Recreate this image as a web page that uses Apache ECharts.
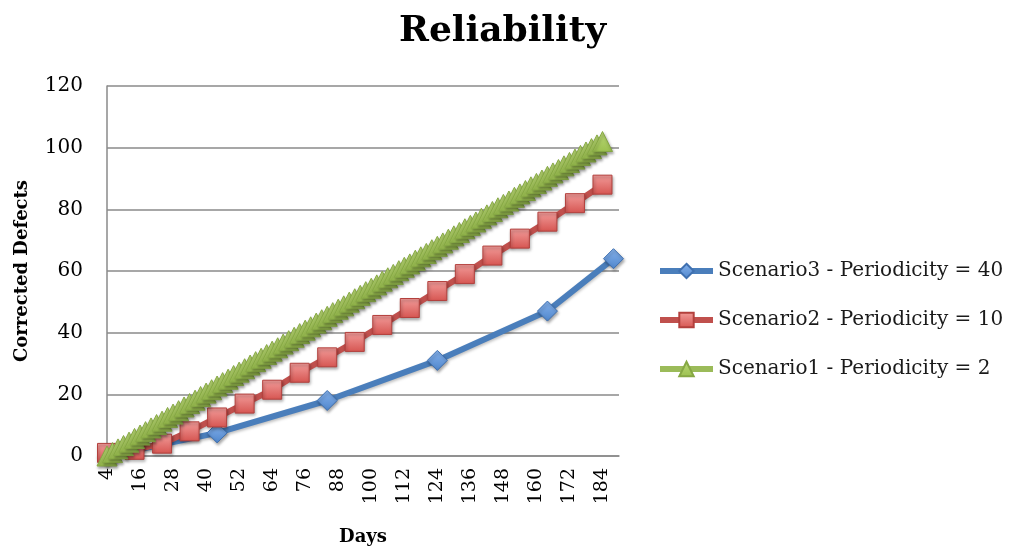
<!DOCTYPE html>
<html>
<head>
<meta charset="utf-8">
<script src="https://cdn.jsdelivr.net/npm/echarts@6/dist/echarts.min.js"></script>
<style>
html,body{margin:0;padding:0;background:#fff;}
#chart{width:1013px;height:549px;}
</style>
</head>
<body>
<div id="chart"></div>
<script>
// Category axis: days
const days = [4,6,8,10,12,14,16,18,20,22,24,26,28,30,32,34,36,38,40,42,44,46,48,50,52,54,56,58,60,62,64,66,68,70,72,74,76,78,80,82,84,86,88,90,92,94,96,98,100,102,104,106,108,110,112,114,116,118,120,122,124,126,128,130,132,134,136,138,140,142,144,146,148,150,152,154,156,158,160,162,164,166,168,170,172,174,176,178,180,182,184,186,188,190];

// Scenario1 - Periodicity = 2 (one point every 2 days, days 4..184)
const s1Days = [4,6,8,10,12,14,16,18,20,22,24,26,28,30,32,34,36,38,40,42,44,46,48,50,52,54,56,58,60,62,64,66,68,70,72,74,76,78,80,82,84,86,88,90,92,94,96,98,100,102,104,106,108,110,112,114,116,118,120,122,124,126,128,130,132,134,136,138,140,142,144,146,148,150,152,154,156,158,160,162,164,166,168,170,172,174,176,178,180,182,184];
const s1Values = [0,1.1,2.3,3.4,4.5,5.7,6.8,7.9,9.1,10.2,11.3,12.5,13.6,14.7,15.9,17.0,18.1,19.3,20.4,21.5,22.7,23.8,24.9,26.1,27.2,28.3,29.5,30.6,31.7,32.9,34.0,35.1,36.3,37.4,38.5,39.7,40.8,41.9,43.1,44.2,45.3,46.5,47.6,48.7,49.9,51.0,52.1,53.3,54.4,55.5,56.7,57.8,58.9,60.1,61.2,62.3,63.5,64.6,65.7,66.9,68.0,69.1,70.3,71.4,72.5,73.7,74.8,75.9,77.1,78.2,79.3,80.5,81.6,82.7,83.9,85.0,86.1,87.3,88.4,89.5,90.7,91.8,92.9,94.1,95.2,96.3,97.5,98.6,99.7,100.9,102.0];

// Scenario2 - Periodicity = 10
const s2Days = [4,14,24,34,44,54,64,74,84,94,104,114,124,134,144,154,164,174,184];
const s2Values = [1,2,4,8,12.5,17,21.5,27,32,37,42.5,48,53.5,59,65,70.5,76,82,88];

// Scenario3 - Periodicity = 40
const s3Days = [4,44,84,124,164,188];
const s3Values = [0,7.5,18,31,47,64];

const yTicks = {min:0, max:120, interval:20};

const seriesNames = ['Scenario3 - Periodicity = 40','Scenario2 - Periodicity = 10','Scenario1 - Periodicity = 2'];

const FONT = 'DejaVu Serif';

function pairs(ds, vs){ return ds.map((d,i)=>[days.indexOf(d), vs[i]]); }
function grad(top, bottom){
  return new echarts.graphic.LinearGradient(0,0,0,1,[{offset:0,color:top},{offset:1,color:bottom}]);
}
const shadow = {shadowColor:'rgba(0,0,0,0.35)', shadowBlur:3, shadowOffsetX:1, shadowOffsetY:2};
const lineShadow = {shadowColor:'rgba(0,0,0,0.25)', shadowBlur:3, shadowOffsetY:2};

const chart = echarts.init(document.getElementById('chart'), null, {renderer:'canvas'});
chart.setOption({
  backgroundColor:'#ffffff',
  animation:false,
  title:{
    text:'Reliability',
    left:394, top:9,
    textStyle:{fontFamily:FONT, fontWeight:'bold', fontSize:36, color:'#000'}
  },
  legend:{
    orient:'vertical',
    left:657, top:261, padding:0,
    itemWidth:53, itemHeight:18, itemGap:29,
    data:seriesNames,
    lineStyle:{width:6},
    textStyle:{fontFamily:FONT, fontSize:20, color:'#1a1a1a'}
  },
  grid:{left:107, right:394, top:86, bottom:93, containLabel:false, outerBoundsMode:'none'},
  xAxis:{
    type:'category',
    data:days.map(String),
    boundaryGap:false,
    name:'Days',
    nameLocation:'middle',
    nameGap:72,
    nameTextStyle:{fontFamily:FONT, fontWeight:'bold', fontSize:18, color:'#000'},
    axisLine:{show:true, lineStyle:{color:'#8a8a8a', width:1.5}},
    axisTick:{show:false},
    axisLabel:{interval:function(idx){ return idx % 6 === 0; }, rotate:90, margin:12, fontFamily:FONT, fontSize:19, color:'#000', hideOverlap:false},
    splitLine:{show:false}
  },
  yAxis:{
    type:'value',
    min:yTicks.min, max:yTicks.max, interval:yTicks.interval,
    name:'Corrected Defects',
    nameLocation:'middle',
    nameGap:76,
    nameTextStyle:{fontFamily:FONT, fontWeight:'bold', fontSize:18, color:'#000'},
    axisLine:{show:true, lineStyle:{color:'#8a8a8a', width:1.5}},
    axisTick:{show:false},
    axisLabel:{margin:24, fontFamily:FONT, fontSize:20, color:'#000'},
    splitLine:{show:true, lineStyle:{color:'#8a8a8a', width:1.5}}
  },
  series:[
    {
      name:seriesNames[0], type:'line', data:pairs(s3Days, s3Values),
      symbol:'diamond', symbolSize:20, showAllSymbol:true,
      lineStyle:Object.assign({color:'#4A7EBB', width:6}, lineShadow),
      itemStyle:Object.assign({color:grad('#86B2EC','#4F86CC'), borderColor:'#3F70B0', borderWidth:1}, shadow),
      z:2
    },
    {
      name:seriesNames[1], type:'line', data:pairs(s2Days, s2Values),
      symbol:'rect', symbolSize:19, showAllSymbol:true,
      lineStyle:Object.assign({color:'#C0504D', width:6}, lineShadow),
      itemStyle:Object.assign({color:grad('#F29D9B','#D65551'), borderColor:'#B3403D', borderWidth:1}, shadow),
      z:3
    },
    {
      name:seriesNames[2], type:'line', data:pairs(s1Days, s1Values),
      symbol:'triangle', symbolSize:20, showAllSymbol:true,
      lineStyle:Object.assign({color:'#9BBB59', width:6}, lineShadow),
      itemStyle:Object.assign({color:grad('#BBD977','#9BC04F'), borderColor:'#86A844', borderWidth:1}, shadow),
      z:4
    }
  ]
});
</script>
</body>
</html>
